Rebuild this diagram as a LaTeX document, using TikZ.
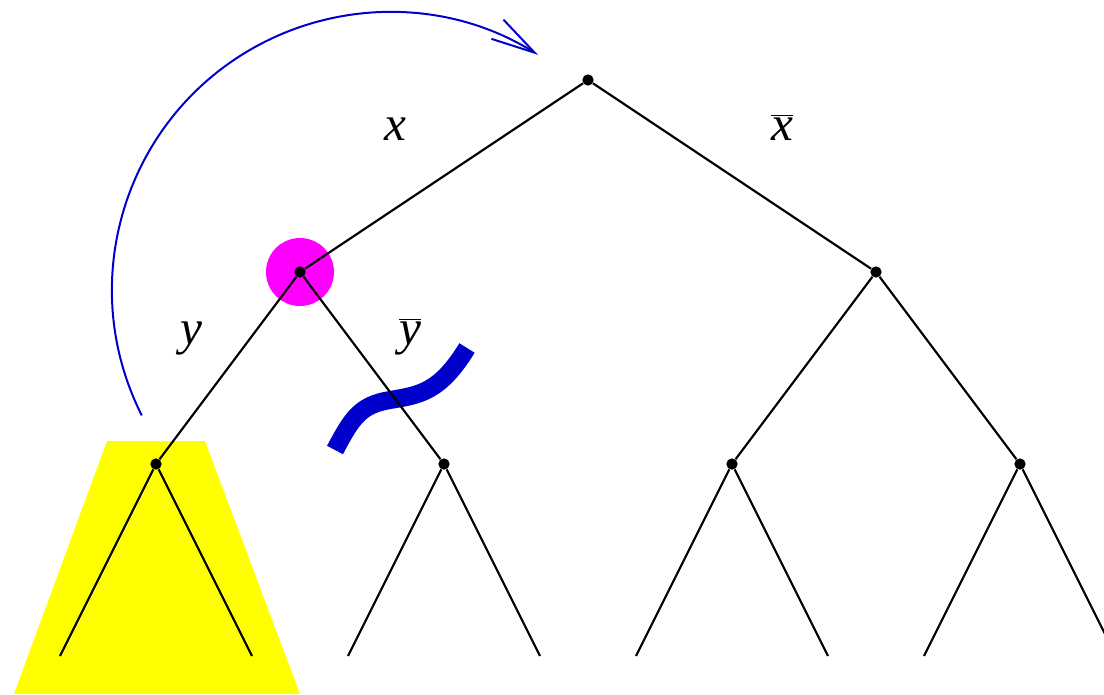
\documentclass[tikz,border=0pt]{standalone}
\usepackage{fontspec}
\setmainfont{Liberation Serif}
\usetikzlibrary{arrows.meta}
\definecolor{myblue}{RGB}{0,0,204}
\definecolor{mymag}{RGB}{255,0,255}
\definecolor{myyel}{RGB}{255,255,0}
\begin{document}
\begin{tikzpicture}[x=0.75pt,y=0.75pt,
  dot/.style={circle,fill=black,inner sep=0pt,minimum size=8.5pt},
  edge/.style={draw=black,line width=1.6pt},
  lbl/.style={font=\fontsize{37}{40}\selectfont\itshape,anchor=base,inner sep=0pt}]
\useasboundingbox (0,0) rectangle (1104,-694);
\clip (0,0) rectangle (1104,-694);
% yellow trapezoid
\fill[myyel] (107,-441) -- (205,-441) -- (300,-694) -- (14,-694) -- cycle;
% magenta circle
\fill[mymag] (300,-272) circle[radius=34];
% blue wiggle
\draw[myblue,line width=13.5pt] (335,-450) .. controls (352,-418) and (360,-405) .. (390,-400) .. controls (420,-395) and (440,-392) .. (467,-348);
% nodes
\node[dot] (r) at (588,-80) {};
\node[dot] (a) at (300,-272) {};
\node[dot] (b) at (876,-272) {};
\node[dot] (aa) at (156,-464) {};
\node[dot] (ab) at (444,-464) {};
\node[dot] (ba) at (732,-464) {};
\node[dot] (bb) at (1020,-464) {};
\coordinate (l1) at (60,-656);
\coordinate (l2) at (252,-656);
\coordinate (l3) at (348,-656);
\coordinate (l4) at (540,-656);
\coordinate (l5) at (636,-656);
\coordinate (l6) at (828,-656);
\coordinate (l7) at (924,-656);
\coordinate (l8) at (1116,-656);
\path[edge] (r) -- (a); \path[edge] (r) -- (b);
\path[edge] (a) -- (aa); \path[edge] (a) -- (ab);
\path[edge] (b) -- (ba); \path[edge] (b) -- (bb);
\path[edge] (aa) -- (l1); \path[edge] (aa) -- (l2);
\path[edge] (ab) -- (l3); \path[edge] (ab) -- (l4);
\path[edge] (ba) -- (l5); \path[edge] (ba) -- (l6);
\path[edge] (bb) -- (l7); \path[edge] (bb) -- (l8);
% labels
\node[lbl] (lx) at (395,-140) {x};
\node[lbl] (lxb) at (782,-140) {$\overline{\hbox{\itshape x}}$};
\node[lbl] (ly) at (191,-344) {y};
\node[lbl] (lyb) at (410,-344) {$\overline{\hbox{\itshape y}}$};
% blue arc with arrow
\coordinate (as) at (141.8,-415.4);
\draw[myblue,line width=1.5pt,-{Straight Barb[length=33pt,width=17pt,line width=1.5pt]}] (as) arc[start angle=206.8,end angle=57.8,radius=278];
\end{tikzpicture}
\end{document}
